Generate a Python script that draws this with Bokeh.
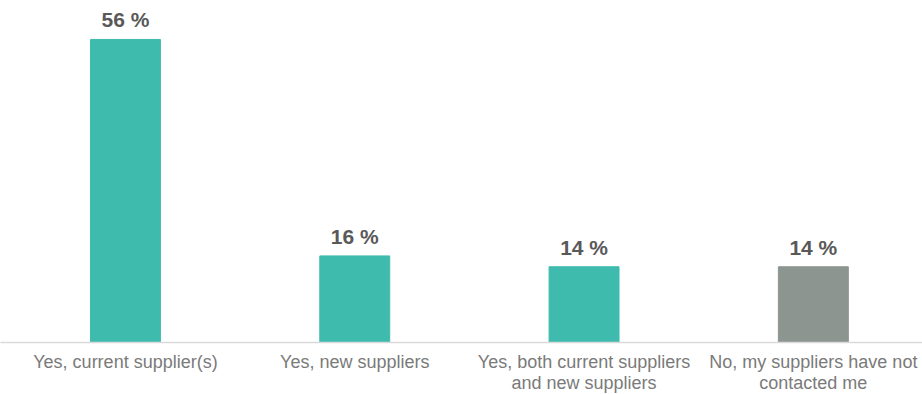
from bokeh.plotting import figure
from bokeh.models import ColumnDataSource, Range1d, FixedTicker
from bokeh.embed import file_html
from bokeh.resources import INLINE
from bokeh.core.properties import value

categories = ["Yes, current supplier(s)", "Yes, new suppliers",
              "Yes, both current suppliers\nand new suppliers",
              "No, my suppliers have not\ncontacted me"]
values = [56, 16, 14, 14]
colors = ["#3FBBAE", "#3FBBAE", "#3FBBAE", "#8C9590"]
labels = [f"{v} %" for v in values]

xs = list(range(len(categories)))
src = ColumnDataSource(dict(x=xs, top=values, color=colors, label=labels))

p = figure(frame_width=922, frame_height=342, output_backend="svg", toolbar_location=None,
           x_range=Range1d(-0.545, 3.476), y_range=Range1d(0, 63.2),
           min_border_left=0, min_border_right=0, min_border_top=0, min_border_bottom=0)
p.vbar(x="x", top="top", width=0.305, color="color", source=src)
p.text(x="x", y="top", text="label", source=src, text_align="center",
       text_baseline="bottom", y_offset=-8, text_font=value("Liberation Sans"),
       text_font_size="21px", text_font_style="bold", text_color="#595959")

p.yaxis.visible = False
p.grid.visible = False
p.outline_line_color = None
ax = p.xaxis[0]
ax.ticker = FixedTicker(ticks=xs)
ax.major_label_overrides = {i: c for i, c in enumerate(categories)}
ax.major_tick_line_color = None
ax.minor_tick_line_color = None
ax.major_tick_out = 0
ax.axis_line_color = "#D9D9D9"
ax.axis_line_width = 1.5
ax.major_label_text_font = "Liberation Sans"
ax.major_label_text_font_size = "18px"
ax.major_label_text_color = "#7A7A7A"
ax.major_label_text_line_height = 1.05
ax.major_label_standoff = 9

open("out.html", "w").write(file_html(p, INLINE))
